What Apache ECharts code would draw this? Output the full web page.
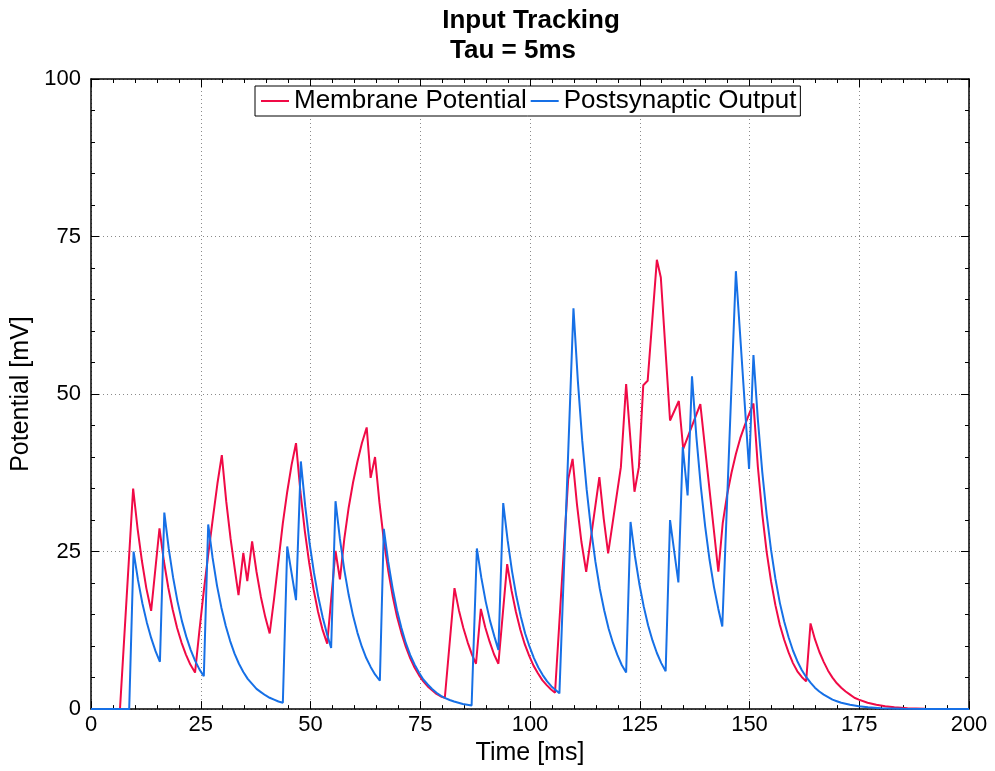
<!DOCTYPE html>
<html>
<head>
<meta charset="utf-8">
<title>Input Tracking</title>
<script src="https://cdn.jsdelivr.net/npm/echarts@6/dist/echarts.min.js"></script>
<style>
  html, body { margin: 0; padding: 0; background: #fff; }
  #chart { width: 995px; height: 771px; }
</style>
</head>
<body>
<div id="chart"></div>
<script>
// Series names (legend order)
const seriesNames = ['Membrane Potential', 'Postsynaptic Output'];

// Membrane potential trace: [time (ms), potential (mV)]
const membranePoints = [
  [0, 0], [6.6, 0], [9.6, 35.0], [10.6, 28.7], [11.6, 23.5], [12.6, 19.2], [13.7, 15.6],
  [15.6, 28.7], [16.6, 23.5], [17.6, 19.3], [18.6, 15.8], [19.6, 12.9], [20.6, 10.6], [21.6, 8.7], [22.6, 7.1], [23.7, 5.8],
  [24.7, 12.5], [25.7, 18.8], [26.7, 24.5], [27.8, 30.5], [28.8, 35.8], [29.8, 40.3],
  [30.8, 33.0], [31.8, 27.0], [32.7, 22.5], [33.6, 18.1],
  [34.7, 24.8], [35.6, 20.3], [36.7, 26.6], [37.7, 21.8], [38.7, 17.8], [39.7, 14.6], [40.7, 12.0],
  [41.7, 17.5], [42.7, 23.5], [43.7, 29.5], [44.7, 34.5], [45.7, 38.8], [46.7, 42.2],
  [47.7, 34.5], [48.7, 28.3], [49.7, 23.2], [50.7, 19.0], [51.7, 15.5], [52.7, 12.7], [53.8, 10.4],
  [55.7, 25.1], [56.7, 20.6], [57.7, 27.0], [58.7, 32.0], [59.7, 36.0], [60.7, 39.3], [61.7, 42.2], [62.8, 44.7],
  [63.7, 36.7], [64.7, 40.0], [65.7, 32.8], [66.7, 26.8], [67.7, 22.0], [68.7, 18.0], [69.7, 14.7], [70.7, 12.1],
  [71.7, 9.9], [72.7, 8.1], [73.7, 6.6], [74.7, 5.4], [75.7, 4.4], [76.7, 3.6], [77.7, 3.0], [78.7, 2.4], [79.7, 2.0], [80.6, 1.8],
  [82.8, 19.2], [83.8, 15.7], [84.8, 12.9], [85.8, 10.6], [86.8, 8.6], [87.7, 7.2],
  [88.8, 15.9], [89.8, 13.0], [90.8, 10.7], [91.8, 8.7], [92.8, 7.2],
  [94.8, 23.0], [95.8, 18.8], [96.8, 15.4], [97.8, 12.6], [98.8, 10.3], [99.8, 8.5], [100.8, 6.9], [101.8, 5.7],
  [102.8, 4.6], [103.8, 3.8], [104.8, 3.1], [105.7, 2.6],
  [108.7, 36.5], [109.7, 39.7], [110.7, 32.5], [111.7, 26.6], [112.8, 21.8],
  [115.8, 36.8], [116.8, 30.2], [117.8, 24.7], [120.7, 38.4], [121.9, 51.6], [123.8, 34.5], [124.8, 38.4],
  [125.8, 51.4], [126.8, 52.1], [128.9, 71.3], [129.8, 68.5], [131.9, 45.8], [133.9, 48.9], [134.9, 41.3],
  [138.8, 48.4], [142.9, 21.8],
  [143.9, 29.5], [144.9, 34.0], [145.9, 37.5], [146.9, 40.5], [147.9, 43.0], [148.9, 45.0], [149.9, 46.8], [150.9, 48.5],
  [151.9, 38.5], [152.9, 31.0], [153.9, 25.0], [154.9, 20.3], [155.9, 16.5], [156.9, 13.4], [157.9, 11.0], [158.9, 9.0],
  [159.9, 7.3], [160.9, 6.0], [161.9, 5.1], [162.9, 4.4],
  [163.9, 13.6], [164.9, 11.1], [165.9, 9.1], [166.9, 7.5], [167.9, 6.1], [168.9, 5.0], [169.9, 4.1], [170.9, 3.4],
  [171.9, 2.8], [172.9, 2.3], [173.9, 1.8], [174.9, 1.5], [176.9, 1.0], [178.9, 0.7], [180.9, 0.45], [183, 0.3],
  [186, 0.15], [190, 0.06], [195, 0.02], [200, 0.01]
];

// Postsynaptic output trace: [time (ms), potential (mV)]
const outputPoints = [
  [0, 0], [8.7, 0], [9.7, 25.0], [10.7, 20.5], [11.7, 16.8], [12.7, 13.8], [13.7, 11.3], [14.7, 9.2], [15.7, 7.5],
  [16.7, 31.2], [17.7, 25.5], [18.7, 20.9], [19.7, 17.1], [20.7, 14.0], [21.7, 11.5], [22.7, 9.4], [23.7, 7.7], [24.7, 6.3], [25.7, 5.2],
  [26.7, 29.3], [27.7, 24.0], [28.7, 19.6], [29.7, 16.1], [30.7, 13.2], [31.7, 10.8], [32.7, 8.8], [33.7, 7.2], [34.7, 5.9],
  [35.7, 4.8], [36.7, 4.0], [37.7, 3.2], [38.7, 2.7], [39.7, 2.2], [40.7, 1.8], [41.7, 1.5], [42.7, 1.2], [43.7, 1.0],
  [44.7, 25.8], [46.7, 17.3],
  [47.8, 39.3], [48.8, 32.2], [49.8, 26.3], [50.8, 21.6], [51.8, 17.7], [52.8, 14.5], [53.8, 11.8], [54.7, 9.7],
  [55.7, 33.0], [56.7, 27.0], [57.7, 22.1], [58.7, 18.1], [59.7, 14.8], [60.7, 12.1], [61.7, 9.9], [62.7, 8.1], [63.7, 6.7], [64.7, 5.5], [65.8, 4.5],
  [66.7, 28.6], [67.7, 23.4], [68.7, 19.2], [69.7, 15.7], [70.7, 12.9], [71.7, 10.5], [72.7, 8.6], [73.7, 7.1], [74.7, 5.8],
  [75.7, 4.7], [76.7, 3.9], [77.7, 3.2], [78.7, 2.6], [79.7, 2.1], [80.7, 1.75], [81.7, 1.45], [82.7, 1.2], [83.7, 1.0],
  [84.7, 0.8], [85.7, 0.7], [86.7, 0.58],
  [87.9, 25.5], [88.9, 20.9], [89.9, 17.1], [90.9, 14.0], [91.9, 11.5], [92.8, 9.4],
  [93.9, 32.7], [94.9, 26.8], [95.9, 21.9], [96.9, 17.9], [97.9, 14.7], [98.9, 12.0], [99.9, 9.9], [100.9, 8.1],
  [101.9, 6.6], [102.9, 5.4], [103.9, 4.4], [104.9, 3.6], [105.9, 3.0], [106.7, 2.5],
  [109.9, 63.6], [110.9, 52.1], [111.9, 42.6], [112.9, 34.9], [113.9, 28.6], [114.9, 23.4], [115.9, 19.1], [116.9, 15.7],
  [117.9, 12.8], [118.9, 10.5], [119.9, 8.6], [120.9, 7.0], [121.9, 5.8],
  [122.9, 29.7], [123.9, 24.3], [124.9, 19.9], [125.9, 16.3], [126.9, 13.3], [127.9, 10.9], [128.9, 8.9], [129.9, 7.3], [130.9, 6.0],
  [131.9, 30.0], [133.8, 20.1], [134.8, 41.6], [135.9, 33.9],
  [136.9, 52.8], [137.9, 43.2], [138.9, 35.4], [139.9, 29.0], [140.9, 23.7], [141.9, 19.4], [142.9, 15.9], [143.8, 13.1],
  [146.9, 69.5], [149.9, 38.1],
  [150.9, 56.2], [151.9, 46.0], [152.9, 37.7], [153.9, 30.9], [154.9, 25.3], [155.9, 20.7], [156.9, 16.9], [157.9, 13.9],
  [158.9, 11.4], [159.9, 9.3], [160.9, 7.6], [161.9, 6.2], [162.9, 5.1], [163.9, 4.2], [164.9, 3.4], [165.9, 2.8],
  [166.9, 2.3], [167.9, 1.9], [168.9, 1.5], [169.9, 1.25], [170.9, 1.0], [172.9, 0.7], [174.9, 0.46], [177, 0.3],
  [180, 0.15], [185, 0.05], [190, 0.02], [200, 0]
];

// Axis ranges and tick spacing
const timeRange = [0, 200];
const timeStep = 25;
const potentialRange = [0, 100];
const potentialStep = 25;

const FONT = '"Liberation Sans", Arial, Helvetica, sans-serif';
const RED = '#f00a46';
const BLUE = '#1670e6';

// Shared look of the boxed frame: black lines, ticks pointing inward
function frameAxis(extra) {
  return Object.assign({
    type: 'value',
    axisLine: { show: true, onZero: false, lineStyle: { color: '#000', width: 1.5 } },
    axisTick: { show: true, inside: true, length: 8, lineStyle: { color: '#000', width: 1 } },
    minorTick: { show: true, splitNumber: 5, length: 4, lineStyle: { color: '#000', width: 1 } },
    axisLabel: { show: false },
    splitLine: { show: false }
  }, extra);
}

const gridLine = { show: true, lineStyle: { color: '#8a8a8a', width: 1, type: [1, 3] } };

const chart = echarts.init(document.getElementById('chart'), null, { renderer: 'canvas' });

chart.setOption({
  animation: false,
  backgroundColor: '#fff',
  textStyle: { fontFamily: FONT },
  title: [
    { text: 'Input Tracking', left: 526, top: 3, textAlign: 'center',
      textStyle: { fontFamily: FONT, fontSize: 26, fontWeight: 'bold', color: '#000' } },
    { text: 'Tau = 5ms', left: 508, top: 33, textAlign: 'center',
      textStyle: { fontFamily: FONT, fontSize: 26, fontWeight: 'bold', color: '#000' } }
  ],
  legend: {
    data: seriesNames,
    left: 255,
    top: 86,
    icon: 'rect',
    itemWidth: 28,
    itemHeight: 2,
    itemGap: 4,
    padding: [2, 4, 2, 6],
    borderColor: '#000',
    borderWidth: 1,
    backgroundColor: '#fff',
    textStyle: { fontFamily: FONT, fontSize: 26, color: '#000' }
  },
  grid: { left: 91, right: 26, top: 79, bottom: 60, containLabel: false },
  xAxis: [
    frameAxis({
      position: 'bottom',
      min: timeRange[0], max: timeRange[1], interval: timeStep,
      axisLabel: { show: true, fontSize: 22, color: '#000', margin: 5, fontFamily: FONT },
      splitLine: gridLine,
      name: 'Time [ms]',
      nameLocation: 'middle',
      nameGap: 26,
      nameTextStyle: { fontSize: 25, color: '#000', fontFamily: FONT }
    }),
    frameAxis({
      position: 'top',
      min: timeRange[0], max: timeRange[1], interval: timeStep
    })
  ],
  yAxis: [
    frameAxis({
      position: 'left',
      min: potentialRange[0], max: potentialRange[1], interval: potentialStep,
      axisLabel: { show: true, fontSize: 22, color: '#000', margin: 10, fontFamily: FONT },
      splitLine: gridLine,
      name: 'Potential [mV]',
      nameLocation: 'middle',
      nameGap: 57,
      nameTextStyle: { fontSize: 25, color: '#000', fontFamily: FONT }
    }),
    frameAxis({
      position: 'right',
      min: potentialRange[0], max: potentialRange[1], interval: potentialStep
    })
  ],
  series: [
    {
      name: seriesNames[0],
      type: 'line',
      data: membranePoints,
      showSymbol: false,
      symbol: 'none',
      lineStyle: { color: RED, width: 2 },
      itemStyle: { color: RED },
      z: 2
    },
    {
      name: seriesNames[1],
      type: 'line',
      data: outputPoints,
      showSymbol: false,
      symbol: 'none',
      lineStyle: { color: BLUE, width: 2 },
      itemStyle: { color: BLUE },
      z: 3
    }
  ]
});
</script>
</body>
</html>
